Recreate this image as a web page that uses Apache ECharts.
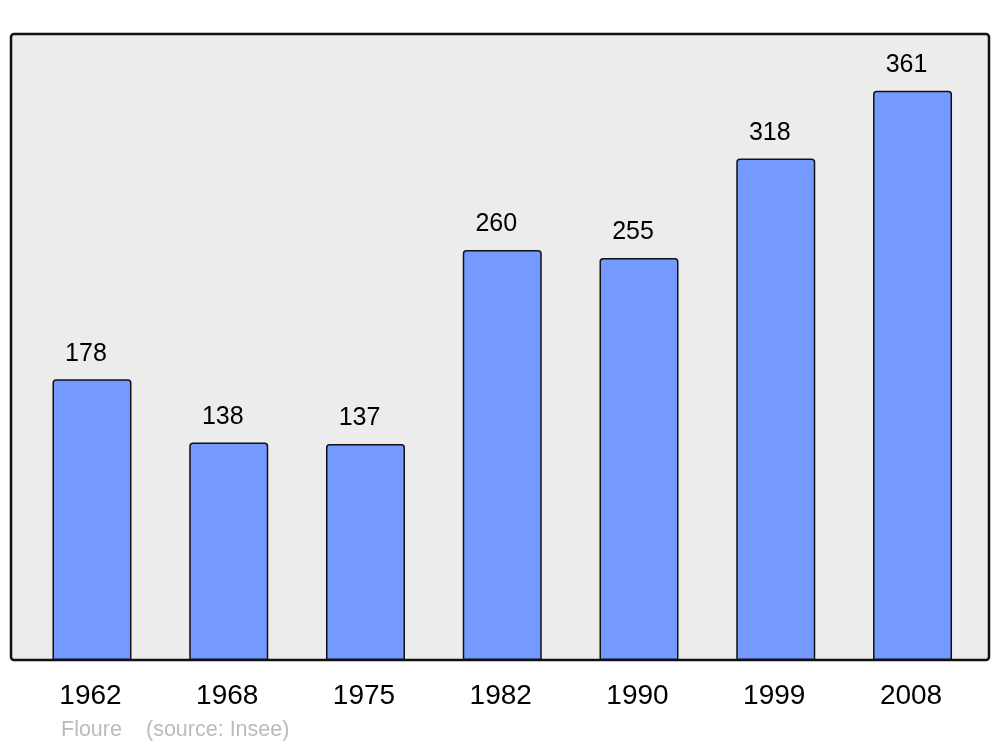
<!DOCTYPE html>
<html>
<head>
<meta charset="utf-8">
<script src="https://cdn.jsdelivr.net/npm/echarts@6/dist/echarts.min.js"></script>
<style>
html,body{margin:0;padding:0;background:#fff;}
#chart{width:1000px;height:747px;}
</style>
</head>
<body>
<div id="chart"></div>
<script>
const years = ['1962', '1968', '1975', '1982', '1990', '1999', '2008'];
const population = [178, 138, 137, 260, 255, 318, 361];
const footerName = 'Floure';
const footerSource = '(source: Insee)';

const chart = echarts.init(document.getElementById('chart'), null, {renderer: 'canvas'});
chart.setOption({
  animation: false,
  backgroundColor: '#ffffff',
  grid: {left: 23.6, right: 19.1, top: 34, bottom: 87, containLabel: false},
  graphic: [
    {
      type: 'rect', z: -10,
      shape: {x: 11, y: 34, width: 978, height: 626, r: 3},
      style: {fill: '#ececec', stroke: '#111111', lineWidth: 2.5}
    },
    {
      type: 'text', z: 10, left: 61, top: 719,
      style: {text: footerName, fill: '#bbbbbb', font: '21.5px "Liberation Sans", Arial, sans-serif'}
    },
    {
      type: 'text', z: 10, left: 146, top: 719,
      style: {text: footerSource, fill: '#bbbbbb', font: '21.5px "Liberation Sans", Arial, sans-serif'}
    }
  ],
  xAxis: {
    type: 'category',
    data: years,
    boundaryGap: true,
    axisLine: {show: false},
    axisTick: {show: false},
    axisLabel: {
      margin: 22,
      color: '#000000',
      fontSize: 28,
      fontFamily: '"Liberation Sans", Arial, sans-serif',
      padding: [0, 3, 0, 0]
    }
  },
  yAxis: {
    type: 'value',
    min: 0,
    max: 397,
    show: false,
    splitLine: {show: false}
  },
  series: [{
    type: 'bar',
    data: population,
    barWidth: 79,
    itemStyle: {
      color: '#7499ff',
      borderColor: '#111111',
      borderWidth: 1.5,
      borderRadius: [3, 3, 0, 0]
    },
    label: {
      show: true,
      position: 'top',
      distance: 13,
      offset: [-6, 0],
      color: '#000000',
      fontSize: 25,
      fontFamily: '"Liberation Sans", Arial, sans-serif'
    }
  }]
});
</script>
</body>
</html>
